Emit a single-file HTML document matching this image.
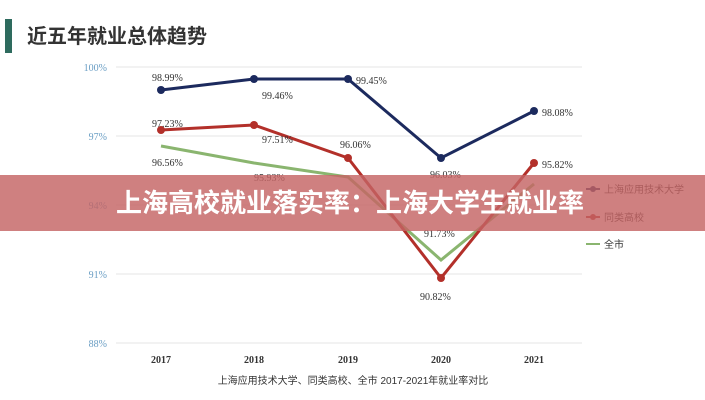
<!DOCTYPE html>
<html><head><meta charset="utf-8"><style>
body{margin:0;background:#fff;width:705px;height:400px;overflow:hidden;position:relative;font-family:"Liberation Serif","Noto Serif CJK SC",serif}
.t{position:absolute;font-family:"Liberation Sans","Noto Sans CJK SC",sans-serif}
</style></head><body>
<div style="position:absolute;left:5px;top:19px;width:7px;height:34px;background:#2e6b5e"></div>
<div class="t" style="left:27px;top:23px;font-size:20px;color:#333;line-height:28px;font-weight:bold">近五年就业总体趋势</div>
<svg width="705" height="400" style="position:absolute;left:0;top:0">
<g stroke="#e6e6e6" stroke-width="1">
<line x1="116" y1="67" x2="582" y2="67"/><line x1="116" y1="136" x2="582" y2="136"/><line x1="116" y1="205" x2="582" y2="205"/><line x1="116" y1="274" x2="582" y2="274"/><line x1="116" y1="343" x2="582" y2="343"/>
</g>
<g font-size="10" fill="#6a9ec4" text-anchor="end" font-family="Liberation Serif,serif">
<text x="107" y="71">100%</text><text x="107" y="140">97%</text><text x="107" y="209">94%</text><text x="107" y="278">91%</text><text x="107" y="347">88%</text>
</g>
<g font-size="10" fill="#333" text-anchor="middle" font-weight="bold">
<text x="161" y="363">2017</text><text x="254" y="363">2018</text><text x="348" y="363">2019</text><text x="441" y="363">2020</text><text x="534" y="363">2021</text>
</g>
<polyline points="161,146 254,163 348,177 441,260 534,184" fill="none" stroke="#8ab56f" stroke-width="3"/>
<polyline points="161,130 254,125 348,158 441,278 534,163" fill="none" stroke="#b3302a" stroke-width="3"/>
<polyline points="161,90 254,79 348,79 441,158 534,111" fill="none" stroke="#1c2a5e" stroke-width="3"/>
<g fill="#1c2a5e"><circle cx="161" cy="90" r="4"/><circle cx="254" cy="79" r="4"/><circle cx="348" cy="79" r="4"/><circle cx="441" cy="158" r="4"/><circle cx="534" cy="111" r="4"/></g>
<g fill="#b3302a"><circle cx="161" cy="130" r="4"/><circle cx="254" cy="125" r="4"/><circle cx="348" cy="158" r="4"/><circle cx="441" cy="278" r="4"/><circle cx="534" cy="163" r="4"/></g>
<g font-size="10" fill="#333">
<text x="152" y="81">98.99%</text><text x="262" y="99">99.46%</text><text x="356" y="84">99.45%</text><text x="430" y="178">96.03%</text><text x="542" y="116">98.08%</text>
<text x="152" y="127">97.23%</text><text x="262" y="143">97.51%</text><text x="340" y="148">96.06%</text><text x="420" y="300">90.82%</text><text x="542" y="168">95.82%</text>
<text x="152" y="166">96.56%</text><text x="254" y="181">95.93%</text><text x="424" y="237">91.73%</text>
</g>
<g font-size="10" fill="#333" font-family="Liberation Sans,Noto Sans CJK SC,sans-serif">
<line x1="586" y1="189" x2="600" y2="189" stroke="#1c2a5e" stroke-width="2"/><circle cx="593" cy="189" r="3" fill="#1c2a5e"/><text x="604" y="193">上海应用技术大学</text>
<line x1="586" y1="217" x2="600" y2="217" stroke="#b3302a" stroke-width="2"/><circle cx="593" cy="217" r="3" fill="#b3302a"/><text x="604" y="221">同类高校</text>
<line x1="586" y1="244" x2="600" y2="244" stroke="#8ab56f" stroke-width="2"/><text x="604" y="248">全市</text>
<text x="353" y="384" text-anchor="middle">上海应用技术大学、同类高校、全市 2017-2021年就业率对比</text>
</g>
</svg>
<div style="position:absolute;left:0;top:175px;width:705px;height:56px;background:rgba(196,100,100,0.82)"></div>
<div class="t" style="left:0;top:175px;width:700px;height:56px;line-height:56px;text-align:center;color:#fff;font-size:26px;font-weight:bold">上海高校就业落实率：上海大学生就业率</div>
</body></html>
